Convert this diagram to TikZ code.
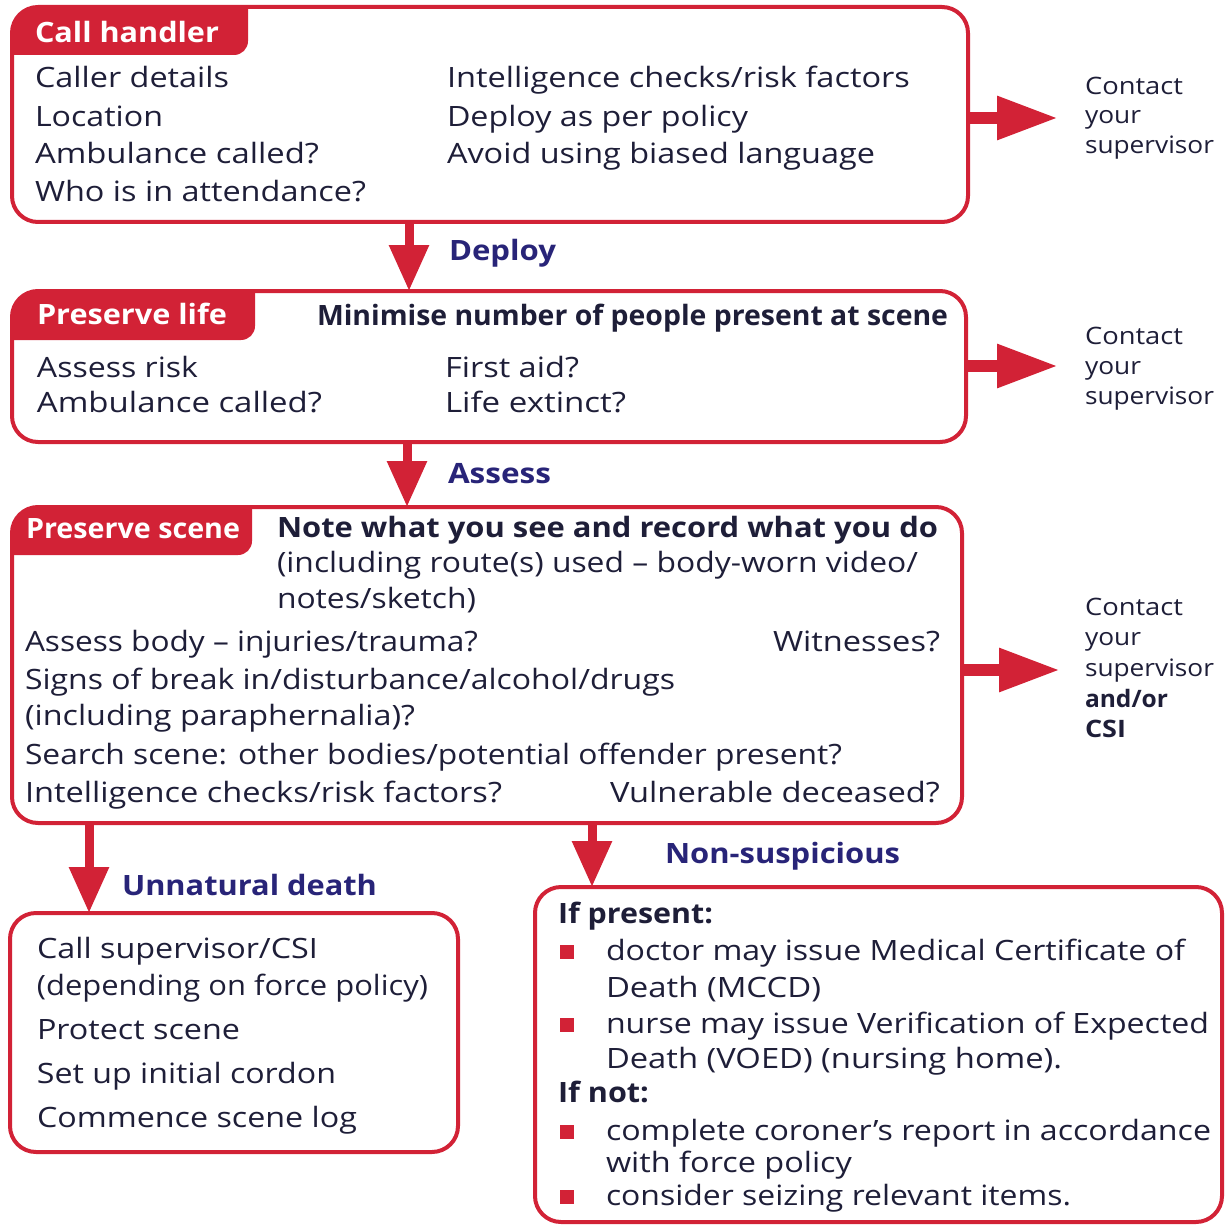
\documentclass[tikz,border=0pt]{standalone}
\usepackage{fontspec}
\setmainfont{Open Sans}
\usepackage{graphicx}
\usetikzlibrary{arrows.meta}
\definecolor{pred}{RGB}{210,34,54}
\definecolor{ink}{RGB}{30,30,56}
\definecolor{navy}{RGB}{40,36,120}
% #1 style, #2 name, #3 position, #4 width (pt), #5 text
\newcommand\putline[5]{\node[#1] (#2) at (#3) {\resizebox{#4pt}{\height}{#5}};}
\begin{document}
\begin{tikzpicture}[x=1pt,y=-1pt,
  box/.style={draw=pred, line width=4pt, rounded corners=26pt, anchor=north west,
              inner sep=0pt, outer sep=0pt},
  txt/.style={anchor=base west, inner sep=0pt, outer sep=0pt, text=ink,
              font=\fontsize{28}{34}\selectfont},
  bld/.style={txt, font=\fontsize{28}{34}\selectfont\bfseries},
  tab/.style={txt, text=white, font=\fontsize{28}{34}\selectfont\bfseries},
  lbl/.style={txt, text=navy, font=\fontsize{28}{34}\selectfont\bfseries},
  ctc/.style={txt, font=\fontsize{24}{30}\selectfont},
  ctb/.style={txt, font=\fontsize{24}{30}\selectfont\bfseries},
  darrow/.style={draw=pred, line width=9pt, -{Triangle[length=46pt,width=38pt]}},
  rarrow/.style={draw=pred, line width=12pt, -{Triangle[length=61pt,width=41pt]}},
  bullet/.style={fill=pred, inner sep=0pt, outer sep=0pt, minimum size=14pt}]

\useasboundingbox (0,0) rectangle (1226,1225);

% ---------------- boxes ----------------
\node[box, minimum width=956pt, minimum height=215pt] (b1) at (12,7) {};
\node[box, minimum width=954pt, minimum height=151pt] (b2) at (12,291) {};
\node[box, minimum width=950pt, minimum height=316pt] (b3) at (12,507) {};
\node[box, minimum width=448pt, minimum height=239pt] (b4) at (10,913) {};
\node[box, minimum width=687pt, minimum height=335pt] (b5) at (535,887) {};

% ---------------- tabs ----------------
\begin{scope}
  \clip[rounded corners=26pt] (b1.north west) rectangle (b1.south east);
  \fill[pred, rounded corners=14pt] (0,-40) rectangle (248,55);
\end{scope}
\begin{scope}
  \clip[rounded corners=26pt] (b2.north west) rectangle (b2.south east);
  \fill[pred, rounded corners=14pt] (0,250) rectangle (255,340);
\end{scope}
\begin{scope}
  \clip[rounded corners=26pt] (b3.north west) rectangle (b3.south east);
  \fill[pred, rounded corners=14pt] (0,470) rectangle (252,555);
\end{scope}
\putline{tab}{tab1}{35,43}{184}{Call handler}
\putline{tab}{tab2}{37,324}{190}{Preserve life}
\putline{tab}{tab3}{26,538}{214}{Preserve scene}

% ---------------- box 1 ----------------
\putline{txt}{b1a}{35,88}{194}{Caller details}
\putline{txt}{b1b}{35,127}{128}{Location}
\putline{txt}{b1c}{35,164}{284}{Ambulance called?}
\putline{txt}{b1d}{35,202}{331}{Who is in attendance?}
\putline{txt}{b1e}{447,88}{463}{Intelligence checks/risk factors}
\putline{txt}{b1f}{447,127}{301}{Deploy as per policy}
\putline{txt}{b1g}{447,164}{428}{Avoid using biased language}

% ---------------- box 2 ----------------
\putline{bld}{b2h}{317,325}{631}{Minimise number of people present at scene}
\putline{txt}{b2a}{37,377}{161}{Assess risk}
\putline{txt}{b2b}{37,412}{285}{Ambulance called?}
\putline{txt}{b2c}{445,377}{134}{First aid?}
\putline{txt}{b2d}{445,412}{181}{Life extinct?}

% ---------------- box 3 ----------------
\putline{bld}{b3h}{277,537}{661}{Note what you see and record what you do}
\putline{txt}{b3h2}{277,572}{641}{(including route(s) used -- body-worn video/}
\putline{txt}{b3h3}{277,608}{199}{notes/sketch)}
\putline{txt}{b3a}{25,651}{453}{Assess body -- injuries/trauma?}
\putline{txt}{b3b}{773,651}{167}{Witnesses?}
\putline{txt}{b3c}{25,689}{650}{Signs of break in/disturbance/alcohol/drugs}
\putline{txt}{b3d}{25,725}{390}{(including paraphernalia)?}
\putline{txt}{b3e}{25,764}{817}{Search scene: other bodies/potential offender present?}
\putline{txt}{b3f}{25,802}{477}{Intelligence checks/risk factors?}
\putline{txt}{b3g}{610,802}{330}{Vulnerable deceased?}

% ---------------- box 4 ----------------
\putline{txt}{b4a}{37,958}{281}{Call supervisor/CSI}
\putline{txt}{b4b}{37,995}{391}{(depending on force policy)}
\putline{txt}{b4c}{37,1039}{203}{Protect scene}
\putline{txt}{b4d}{37,1083}{299}{Set up initial cordon}
\putline{txt}{b4e}{37,1127}{320}{Commence scene log}

% ---------------- box 5 ----------------
\putline{bld}{b5h1}{558,923}{155}{If present:}
\putline{txt}{b5a}{606,960}{579}{doctor may issue Medical Certificate of}
\putline{txt}{b5b}{606,997}{215}{Death (MCCD)}
\putline{txt}{b5c}{606,1033}{603}{nurse may issue Verification of Expected}
\putline{txt}{b5d}{606,1068}{456}{Death (VOED) (nursing home).}
\putline{bld}{b5h2}{558,1102}{91}{If not:}
\putline{txt}{b5e}{606,1140}{605}{complete coroner’s report in accordance}
\putline{txt}{b5f}{606,1172}{246}{with force policy}
\putline{txt}{b5g}{606,1205}{465}{consider seizing relevant items.}
\node[bullet] (bu1) at (567,952) {};
\node[bullet] (bu2) at (567,1025) {};
\node[bullet] (bu3) at (567,1132) {};
\node[bullet] (bu4) at (567,1197) {};

% ---------------- contact texts ----------------
\putline{ctc}{c1a}{1085,95}{98}{Contact}
\putline{ctc}{c1b}{1085,124}{56}{your}
\putline{ctc}{c1c}{1085,154}{129}{supervisor}
\putline{ctc}{c2a}{1085,344}{98}{Contact}
\putline{ctc}{c2b}{1085,374}{56}{your}
\putline{ctc}{c2c}{1085,404}{129}{supervisor}
\putline{ctc}{c3a}{1085,615}{98}{Contact}
\putline{ctc}{c3b}{1085,645}{56}{your}
\putline{ctc}{c3c}{1085,676}{129}{supervisor}
\putline{ctb}{c3d}{1085,707}{83}{and/or}
\putline{ctb}{c3e}{1085,737}{41}{CSI}

% ---------------- connector labels ----------------
\putline{lbl}{l1}{449,260}{107}{Deploy}
\putline{lbl}{l2}{448,483}{103}{Assess}
\putline{lbl}{l3}{122,895}{255}{Unnatural death}
\putline{lbl}{l4}{665,863}{235}{Non-suspicious}

% ---------------- connectors ----------------
\coordinate (x1) at (409,0);
\coordinate (x2) at (407,0);
\coordinate (x3) at (89,0);
\coordinate (x4) at (592,0);
\draw[darrow] (b1.south -| x1) -- (b2.north -| x1);
\draw[darrow] (b2.south -| x2) -- (b3.north -| x2);
\draw[darrow] (b3.south -| x3) -- (b4.north -| x3);
\draw[darrow] (b3.south -| x4) -- (b5.north -| x4);

\coordinate (t1) at (1058,118);
\coordinate (t2) at (1058,366);
\coordinate (t3) at (1060,670);
\draw[rarrow] (t1 -| b1.east) -- (t1);
\draw[rarrow] (t2 -| b2.east) -- (t2);
\draw[rarrow] (t3 -| b3.east) -- (t3);
\end{tikzpicture}
\end{document}
